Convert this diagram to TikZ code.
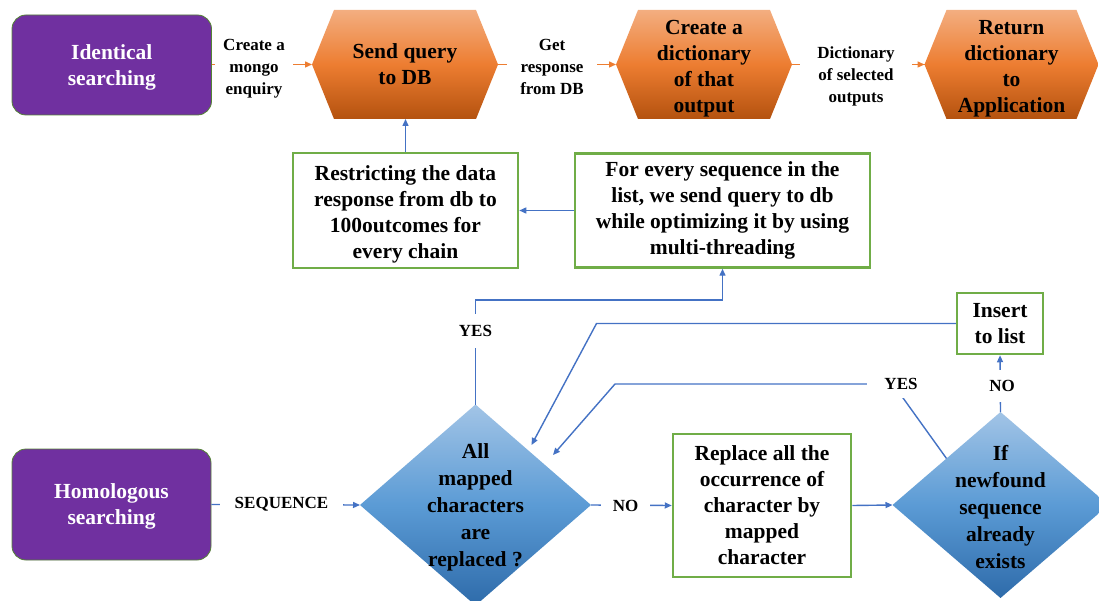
\documentclass[tikz,border=0pt]{standalone}
\usepackage{fontspec}
\setmainfont{Liberation Serif}
\usetikzlibrary{arrows.meta,calc}
\definecolor{purpleC}{HTML}{7030A0}
\definecolor{purpleB}{HTML}{548235}
\definecolor{greenC}{HTML}{70AD47}
\definecolor{blueL}{HTML}{4472C4}
\definecolor{orangeL}{HTML}{ED7D31}
\definecolor{hexTop}{HTML}{F3AE80}
\definecolor{hexMid}{HTML}{ED7D31}
\definecolor{hexBot}{HTML}{B4520F}
\definecolor{diaTop}{HTML}{A2C4E6}
\definecolor{diaMid}{HTML}{5B9BD5}
\definecolor{diaBot}{HTML}{2E6BAA}
\newcommand\bigf{\fontsize{21.5}{26}\selectfont\bfseries}
\newcommand\diaf{\fontsize{21.5}{27}\selectfont\bfseries}
\newcommand\smallf{\fontsize{17}{22}\selectfont\bfseries}
\newcommand\topgap[1]{\rule{0pt}{#1}}
\tikzset{
  startbox/.style={rounded corners=14pt, fill=purpleC, draw=purpleB, line width=0.8pt,
    text=white, font=\bigf, align=center, inner sep=0pt},
  hexa/.style={minimum width=#1, minimum height=109pt, inner sep=0pt, outer sep=0pt,
    fill=white, align=center, font=\bigf,
    path picture={\shade[top color=hexTop, bottom color=hexBot, middle color=hexMid]
      (path picture bounding box.west)
      -- ([xshift=22pt]path picture bounding box.north west)
      -- ([xshift=-22pt]path picture bounding box.north east)
      -- (path picture bounding box.east)
      -- ([xshift=-22pt]path picture bounding box.south east)
      -- ([xshift=22pt]path picture bounding box.south west) -- cycle;}},
  dia/.style={inner sep=0pt, outer sep=0pt, fill=white, align=center, font=\diaf,
    path picture={\shade[top color=diaTop, bottom color=diaBot, middle color=diaMid]
      (path picture bounding box.west) -- (path picture bounding box.north)
      -- (path picture bounding box.east) -- (path picture bounding box.south) -- cycle;}},
  gbox/.style={draw=greenC, line width=2.5pt, fill=white, align=center, font=\bigf, inner sep=0pt},
  lbl/.style={fill=white, align=center, font=\smallf, inner sep=0pt},
  barrow/.style={draw=blueL, line width=1.4pt, -{Triangle[length=7pt,width=6pt]}},
  oarrow/.style={draw=orangeL, line width=1.4pt, -{Triangle[length=7pt,width=6pt]}},
}
\begin{document}
\begin{tikzpicture}[x=1pt,y=-1pt]
\useasboundingbox (0,0) rectangle (1099,601);
% top row
\node[startbox, minimum width=199.5pt, minimum height=100pt] (ident) at (111.75,65) {\topgap{19pt}Identical\\searching};
\node[hexa=186pt] (send) at (405,64.5) {Send query\\to DB};
\node[hexa=176pt] (dict) at (704,64.5) {\topgap{22pt}Create a\\dictionary\\of that\\output};
\node[hexa=174pt] (ret) at (1011.5,64.5) {\topgap{23pt}Return\\dictionary\\to\\Application};
% middle row
\node[gbox, minimum width=225pt, minimum height=115pt] (restr) at (405.5,210.5)
  {\topgap{22pt}Restricting the data\\response from db to\\100outcomes for\\every chain};
\node[gbox, minimum width=295pt, minimum height=114pt] (forevery) at (722.5,210.5)
  {For every sequence in the\\list, we send query to db\\while optimizing it by using\\multi-threading};
% bottom row
\node[startbox, minimum width=199pt, minimum height=111pt] (homo) at (111.5,504.5) {\topgap{19pt}Homologous\\searching};
\node[dia, minimum width=231pt, minimum height=201pt] (d1) at (475.5,505)
  {\topgap{19pt}All\\mapped\\characters\\are\\replaced ?};
\node[gbox, minimum width=178pt, minimum height=143pt] (repl) at (762,505.5)
  {Replace all the\\occurrence of\\character by\\mapped\\character};
\node[dia, minimum width=216pt, minimum height=186pt] (d2) at (1000.5,505)
  {\topgap{19pt}If\\newfound\\sequence\\already\\exists};
\node[gbox, minimum width=86pt, minimum height=61pt] (insert) at (1000,323.5) {Insert\\to list};
% connectors top
\draw[oarrow] (ident.east |- send.west) -- (send.west);
\draw[oarrow] (send.east) -- (dict.west);
\draw[oarrow] (dict.east) -- (ret.west);
\draw[barrow] (restr.north) -- (restr.north |- send.south);
\draw[barrow] (forevery.west) -- (restr.east);
\draw[barrow] (d1.north) -- ++(0,-104.3) -| (forevery.south);
% connectors bottom
\draw[barrow] (homo.east) -- (d1.west);
\draw[barrow] (d1.east) -- (repl.west);
\draw[barrow] (repl.east) -- (d2.west);
\draw[barrow] (d2.north) -- (insert.south);
\coordinate (c1) at (596.5,323.5);
\coordinate (t1) at (531.5,445);
\draw[barrow] (insert.west) -- (c1) -- (t1);
\coordinate (e2) at ($(d2.west)!0.5!(d2.north)$);
\coordinate (c2) at (893,384);
\coordinate (c3) at (615,384);
\coordinate (t2) at (553,455);
\draw[barrow] (e2) -- (c2) -- (c3) -- (t2);
% labels
\node[lbl, minimum width=78pt] (l1) at (254,69) {Create a\\mongo\\enquiry};
\node[lbl, minimum width=90pt] (l2) at (552,67) {Get\\response\\from DB};
\node[lbl, minimum width=112pt] (l3) at (856,76) {Dictionary\\of selected\\outputs};
\node[lbl, minimum width=123pt, minimum height=20pt] (l4) at (281.5,504) {SEQUENCE};
\node[lbl, minimum width=49pt, minimum height=20pt] (l5) at (625.5,505.5) {NO};
\node[lbl, minimum width=40pt, minimum height=34pt] (l6) at (475.5,331) {YES};
\node[lbl, minimum width=40pt, minimum height=32pt] (l7) at (1002,386) {NO};
\node[lbl, minimum width=68pt, minimum height=28pt] (l8) at (901,384) {YES};
\end{tikzpicture}
\end{document}
